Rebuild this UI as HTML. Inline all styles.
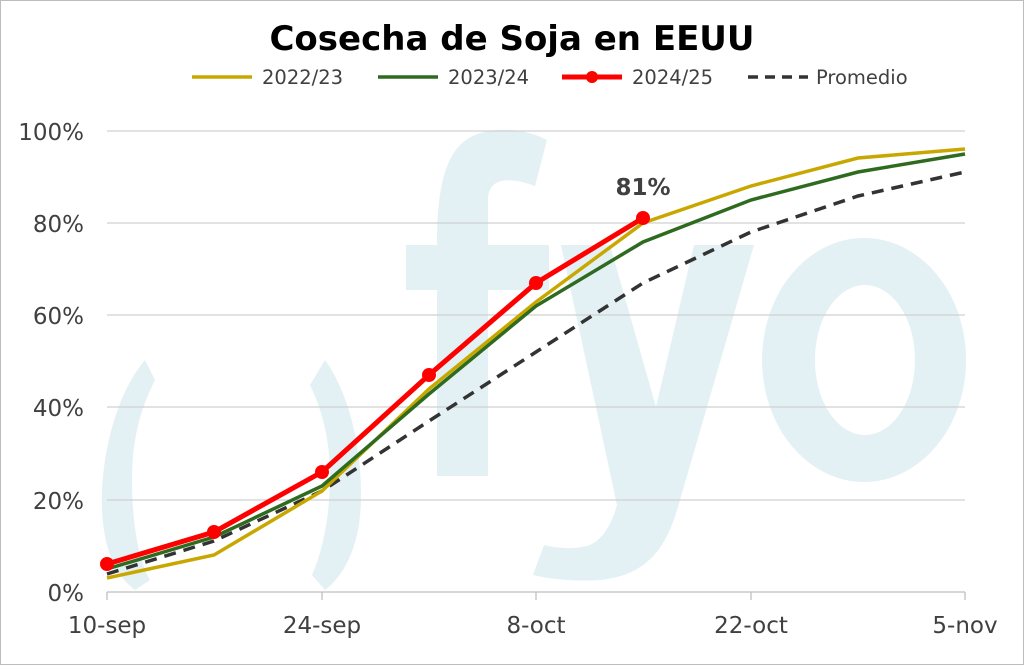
<!DOCTYPE html>
<html><head><meta charset="utf-8"><style>
html,body{margin:0;padding:0;background:#fff}
svg{display:block}
text{font-family:"DejaVu Sans","Liberation Sans",sans-serif}
</style></head><body>
<svg width="1024" height="665" viewBox="0 0 1024 665" xmlns="http://www.w3.org/2000/svg">
<rect x="0.5" y="0.5" width="1023" height="664" fill="#fff" stroke="#bdbdbd"/>
<g fill="#e3f1f5">
<path d="M145,360 C115,395 100,460 102,510 C104,550 115,575 135,590 L150,580 C138,560 132,520 132,480 C132,440 140,410 155,380 Z"/>
<path d="M325,360 C350,395 362,450 361,500 C360,545 345,575 325,590 L312,575 C325,545 330,510 330,475 C330,440 322,410 310,385 Z"/>
<path d="M437,476 L488,476 L488,290 L549,290 L549,245 L488,245 L488,200 C488,180 505,175 535,186 L547,140 C520,126 480,125 460,145 C443,163 437,195 437,245 L406,245 L406,290 L437,290 Z"/>
<path d="M561,245 L610,245 L656,407 L694,245 L754,245 L680,500 C668,545 650,575 600,580 C570,582 545,578 533,575 L544,545 C555,548 575,550 590,545 C605,538 613,520 617,505 Z"/>
<path fill-rule="evenodd" d="M864,238 A102,122 0 1,0 864.1,238 Z M865,285 A50,75 0 1,1 864.9,285 Z"/>
</g>
<g stroke="#d0d0d0" stroke-width="1.3">
<line x1="107" y1="131" x2="965" y2="131"/>
<line x1="107" y1="223" x2="965" y2="223"/>
<line x1="107" y1="315" x2="965" y2="315"/>
<line x1="107" y1="407" x2="965" y2="407"/>
<line x1="107" y1="500" x2="965" y2="500"/>
</g>
<g stroke="#bfbfbf" stroke-width="1.3">
<line x1="107" y1="592" x2="965" y2="592"/>
<line x1="107" y1="592" x2="107" y2="600"/>
<line x1="322" y1="592" x2="322" y2="600"/>
<line x1="536" y1="592" x2="536" y2="600"/>
<line x1="751" y1="592" x2="751" y2="600"/>
<line x1="965" y1="592" x2="965" y2="600"/>
</g>
<g fill="#404040" font-size="23" text-anchor="end">
<text x="84" y="140">100%</text>
<text x="84" y="232">80%</text>
<text x="84" y="324">60%</text>
<text x="84" y="416">40%</text>
<text x="84" y="509">20%</text>
<text x="84" y="601">0%</text>
</g>
<g fill="#404040" font-size="23" text-anchor="middle">
<text x="107" y="633">10-sep</text>
<text x="322" y="633">24-sep</text>
<text x="536" y="633">8-oct</text>
<text x="751" y="633">22-oct</text>
<text x="965" y="633">5-nov</text>
</g>
<text x="512" y="50" text-anchor="middle" font-size="34" font-weight="bold" fill="#000">Cosecha de Soja en EEUU</text>
<line x1="192" y1="77" x2="252" y2="77" stroke="#c8a800" stroke-width="3.5"/>
<text x="262" y="84" font-size="19.5" fill="#404040">2022/23</text>
<line x1="378" y1="77" x2="438" y2="77" stroke="#2e6b1f" stroke-width="3.5"/>
<text x="448" y="84" font-size="19.5" fill="#404040">2023/24</text>
<line x1="562" y1="77" x2="622" y2="77" stroke="#ff0000" stroke-width="5"/>
<circle cx="592" cy="77" r="6" fill="#ff0000"/>
<text x="632" y="84" font-size="19.5" fill="#404040">2024/25</text>
<line x1="748" y1="77" x2="808" y2="77" stroke="#333" stroke-width="3.5" stroke-dasharray="10,7"/>
<text x="816" y="84" font-size="19.5" fill="#404040">Promedio</text>
<polyline fill="none" stroke="#333" stroke-width="3.5" stroke-dasharray="12,8" points="107,574 214,541 322,491 429,421 536,352 643,283 751,232 858,196 965,172"/>
<polyline fill="none" stroke="#c8a800" stroke-width="3.5" points="107,578 214,555 322,491 429,389 536,302 643,223 751,186 858,158 965,149"/>
<polyline fill="none" stroke="#2e6b1f" stroke-width="3.5" points="107,569 214,537 322,486 429,394 536,306 643,242 751,200 858,172 965,154"/>
<polyline fill="none" stroke="#ff0000" stroke-width="5" points="107,564 214,532 322,472 429,375 536,283 643,218"/>
<g fill="#ff0000">
<circle cx="107" cy="564" r="7"/><circle cx="214" cy="532" r="7"/><circle cx="322" cy="472" r="7"/>
<circle cx="429" cy="375" r="7"/><circle cx="536" cy="283" r="7"/><circle cx="643" cy="218" r="7"/>
</g>
<text x="643" y="195" text-anchor="middle" font-size="23" font-weight="bold" fill="#404040">81%</text>
</svg>
</body></html>
